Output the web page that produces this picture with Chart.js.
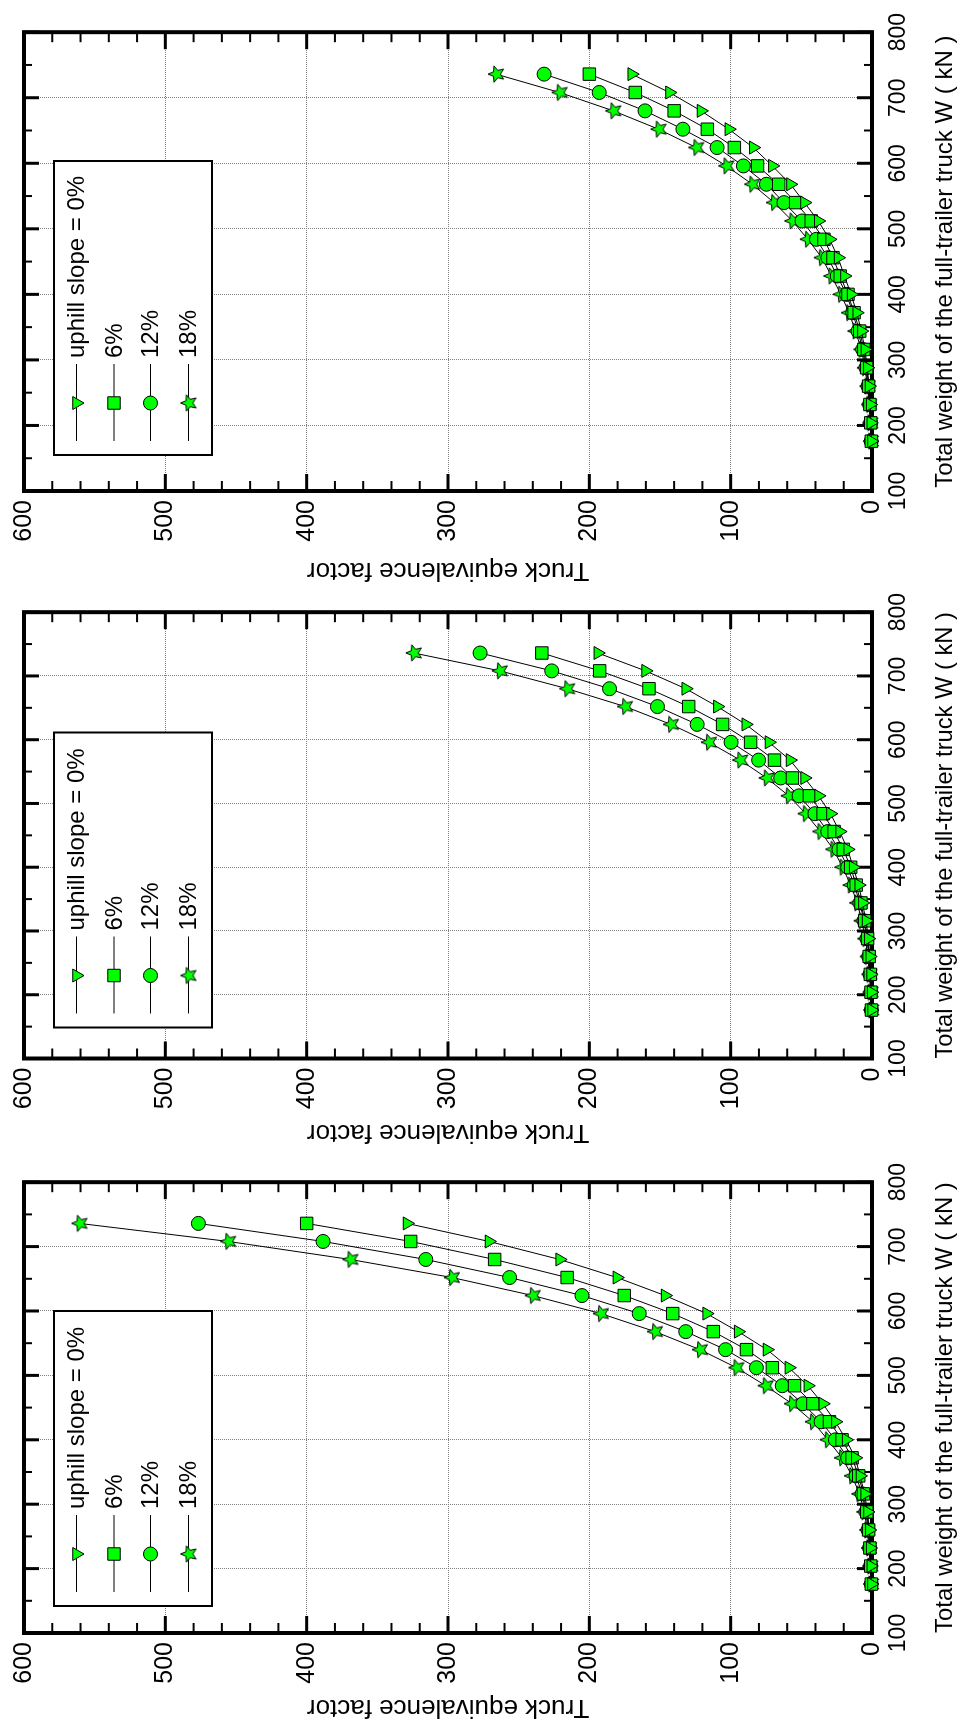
<!DOCTYPE html>
<html>
<head>
<meta charset="utf-8">
<script src="https://cdn.jsdelivr.net/npm/chart.js@4/dist/chart.umd.min.js"></script>
<style>
  html, body { margin: 0; padding: 0; background: #fff; }
  #page { position: relative; width: 960px; height: 1728px; overflow: hidden; background: #fff; }
  .panel { position: absolute; left: 0; transform-origin: 0 0; }
</style>
</head>
<body>
<div id="page"></div>
<script>
// Total weight of the full-trailer truck (kN), shared by every curve
const weights = [176, 204, 232, 260, 288, 316, 344, 372, 400, 428, 456, 484, 512, 540, 568, 596, 624, 652, 680, 708, 736];

const slopeLabels = ['uphill slope = 0%', '6%', '12%', '18%'];
const weightTicks = [100, 200, 300, 400, 500, 600, 700, 800];
const factorTicks = [0, 100, 200, 300, 400, 500, 600];

// Upper panel: truck equivalence factor per slope
const upper0  = [0.4, 0.8, 1.3, 2.1, 3.3, 5.0, 7.5, 10.8, 14.8, 19.5, 24.0, 30.0, 38.0, 47.8, 57.7, 70.5, 84.0, 101.3, 121.0, 143.3, 170.0];
const upper6  = [0.5, 0.9, 1.5, 2.4, 3.8, 5.8, 8.7, 12.7, 17.0, 22.5, 27.6, 34.0, 43.0, 54.0, 66.0, 81.0, 97.4, 116.5, 140.0, 167.5, 200.0];
const upper12 = [0.6, 1.0, 1.7, 2.8, 4.3, 6.6, 9.9, 13.6, 18.0, 24.6, 31.2, 39.3, 49.5, 62.3, 74.7, 91.0, 109.6, 133.8, 160.6, 193.0, 232.0];
const upper18 = [0.7, 1.2, 2.0, 3.2, 5.0, 7.5, 11.7, 16.2, 22.0, 28.7, 35.5, 45.4, 56.3, 69.3, 84.7, 103.0, 124.3, 151.0, 183.0, 221.0, 266.0];

// Middle panel
const middle0  = [0.3, 0.6, 1.0, 1.6, 2.6, 4.2, 6.8, 9.4, 13.3, 17.2, 22.9, 29.4, 37.8, 47.7, 58.0, 72.9, 89.3, 109.4, 131.8, 160.2, 194.0];
const middle6  = [0.4, 0.7, 1.2, 2.0, 3.1, 5.2, 7.8, 11.2, 15.1, 20.3, 26.8, 34.6, 44.3, 56.3, 69.0, 85.9, 105.7, 129.7, 157.8, 192.7, 233.6];
const middle12 = [0.45, 0.8, 1.4, 2.3, 3.6, 5.7, 8.6, 12.5, 17.2, 23.4, 31.3, 40.4, 51.6, 64.6, 80.2, 99.7, 123.7, 151.8, 185.7, 226.6, 277.3];
const middle18 = [0.5, 1.0, 1.8, 3.0, 4.7, 7.3, 10.4, 15.1, 20.8, 27.3, 36.5, 46.9, 58.9, 74.5, 93.2, 115.4, 142.2, 174.7, 215.6, 263.3, 324.2];

// Lower panel
const lower0  = [0.4, 0.8, 1.3, 1.9, 3.2, 5.2, 8.5, 11.8, 18.3, 25.9, 34.8, 45.4, 58.8, 74.3, 94.7, 117.0, 146.4, 180.5, 221.0, 271.0, 329.0];
const lower6  = [0.5, 0.9, 1.5, 2.4, 3.7, 6.1, 9.4, 14.1, 21.2, 30.1, 41.8, 54.8, 70.5, 88.8, 112.3, 141.0, 175.3, 215.7, 267.0, 326.4, 400.0];
const lower12 = [0.55, 1.0, 1.7, 2.8, 4.3, 7.0, 11.3, 17.2, 25.9, 36.0, 48.9, 63.5, 81.8, 103.6, 131.8, 164.7, 205.2, 256.4, 315.7, 388.4, 476.6];
const lower18 = [0.6, 1.2, 2.1, 3.4, 5.4, 8.9, 14.1, 21.2, 31.3, 41.8, 56.6, 75.2, 95.9, 121.7, 153.5, 191.8, 240.0, 297.2, 369.0, 455.5, 560.7];

const FONT = "'Liberation Sans', Arial, Helvetica, sans-serif";
const GREEN = '#00ff00';

// Five-pointed star marker
function makeStar() {
  const c = document.createElement('canvas');
  c.width = 20; c.height = 20;
  const g = c.getContext('2d');
  g.beginPath();
  for (let k = 0; k < 10; k++) {
    const r = k % 2 ? 3.8 : 8.6;
    const a = -Math.PI / 2 + k * Math.PI / 5;
    const px = 10 + r * Math.cos(a), py = 10.6 + r * Math.sin(a);
    if (k) g.lineTo(px, py); else g.moveTo(px, py);
  }
  g.closePath();
  g.fillStyle = GREEN; g.fill();
  g.lineWidth = 1; g.strokeStyle = '#000'; g.stroke();
  return c;
}
const STAR = makeStar();

const markerStyles = [
  { pointStyle: 'triangle', pointRadius: 7.5, pointRotation: 180 },
  { pointStyle: 'rect', pointRadius: 8.8, pointRotation: 0 },
  { pointStyle: 'circle', pointRadius: 7, pointRotation: 0 },
  { pointStyle: STAR, pointRadius: 7.5, pointRotation: 0 }
];

// Each chart is drawn upright, then the canvas is turned a quarter turn counter-clockwise.
const panels = [
  { top: 0,    height: 590, boxTop: 22,   boxBottom: 491,    titleCenter: 570,  legend: [36, 330], series: [upper0, upper6, upper12, upper18] },
  { top: 580,  height: 570, boxTop: 597,  boxBottom: 1058.5, titleCenter: 1132, legend: [31, 326], series: [middle0, middle6, middle12, middle18] },
  { top: 1150, height: 578, boxTop: 1165, boxBottom: 1633,   titleCenter: 1707, legend: [27, 322], series: [lower0, lower6, lower12, lower18] }
];

const PLOT_TOP = 19, PLOT_BOTTOM = 872, CANVAS_H = 960;

function line(ctx, x1, y1, x2, y2) {
  ctx.beginPath(); ctx.moveTo(x1, y1); ctx.lineTo(x2, y2); ctx.stroke();
}

// Heavy frame with inward major/minor ticks on all four sides
const framePlugin = {
  id: 'frame',
  beforeDatasetsDraw(chart) {
    const { ctx, chartArea: { left, right, top, bottom }, scales: { x, y } } = chart;
    ctx.save();
    ctx.strokeStyle = '#000';
    ctx.lineCap = 'butt';
    for (let v = 0; v <= 600; v += 20) {
      const py = y.getPixelForValue(v);
      const major = v % 100 === 0;
      const len = major ? 17 : 10;
      ctx.lineWidth = major ? 3 : 2;
      line(ctx, left, py, left + len, py);
      line(ctx, right - len, py, right, py);
    }
    for (let w = 100; w <= 800; w += 50) {
      const px = x.getPixelForValue(w);
      const major = w % 100 === 0;
      const len = major ? 15 : 8;
      ctx.lineWidth = major ? 3 : 2;
      line(ctx, px, top, px, top + len);
      line(ctx, px, bottom - len, px, bottom);
    }
    ctx.lineWidth = 4;
    ctx.strokeRect(left, top, right - left, bottom - top);
    ctx.restore();
  }
};

function drawMarker(ctx, i, cx, cy) {
  ctx.save();
  ctx.fillStyle = GREEN; ctx.strokeStyle = '#000'; ctx.lineWidth = 1;
  if (i === 0) {
    const r = 7.5;
    ctx.beginPath();
    for (let k = 0; k < 3; k++) {
      const a = Math.PI + k * 2 * Math.PI / 3;
      const px = cx + Math.sin(a) * r, py = cy - Math.cos(a) * r;
      if (k) ctx.lineTo(px, py); else ctx.moveTo(px, py);
    }
    ctx.closePath(); ctx.fill(); ctx.stroke();
  } else if (i === 1) {
    const s = 8.8 * Math.SQRT1_2;
    ctx.beginPath(); ctx.rect(cx - s, cy - s, 2 * s, 2 * s); ctx.fill(); ctx.stroke();
  } else if (i === 2) {
    ctx.beginPath(); ctx.arc(cx, cy, 7, 0, 2 * Math.PI); ctx.fill(); ctx.stroke();
  } else {
    ctx.drawImage(STAR, cx - STAR.width / 2, cy - STAR.height / 2);
  }
  ctx.restore();
}

const legendPlugin = {
  id: 'slopeLegend',
  afterDatasetsDraw(chart, args, opts) {
    const { ctx, chartArea: { left } } = chart;
    const x0 = left + opts.range[0], x1 = left + opts.range[1];
    const y0 = 54, y1 = 212;
    const rows = [22.5, 60, 96.5, 134.5];
    ctx.save();
    ctx.fillStyle = '#fff';
    ctx.fillRect(x0, y0, x1 - x0, y1 - y0);
    ctx.strokeStyle = '#000'; ctx.lineWidth = 2;
    ctx.strokeRect(x0, y0, x1 - x0, y1 - y0);
    ctx.font = '24px ' + FONT;
    ctx.textAlign = 'left'; ctx.textBaseline = 'middle';
    slopeLabels.forEach((label, i) => {
      const ry = y0 + rows[i];
      ctx.lineWidth = 1;
      line(ctx, x0 + 14, ry, x0 + 91, ry);
      drawMarker(ctx, i, x0 + 52, ry);
      ctx.fillStyle = '#000';
      ctx.fillText(label, x0 + 97, ry + 1);
    });
    ctx.restore();
  }
};

const page = document.getElementById('page');

panels.forEach(p => {
  const W = p.height;
  const canvas = document.createElement('canvas');
  canvas.width = W; canvas.height = CANVAS_H;
  canvas.className = 'panel';
  canvas.style.top = p.top + 'px';
  canvas.style.width = W + 'px';
  canvas.style.height = CANVAS_H + 'px';
  canvas.style.transform = 'translateY(' + W + 'px) rotate(-90deg)';
  page.appendChild(canvas);

  const chartLeft = p.top + W - p.boxBottom;
  const chartRight = p.top + W - p.boxTop;
  const yTitleCenter = p.top + W - p.titleCenter;

  new Chart(canvas, {
    type: 'scatter',
    data: {
      datasets: p.series.map((vals, i) => Object.assign({
        label: slopeLabels[i],
        data: weights.map((w, j) => ({ x: w, y: vals[j] })),
        showLine: true,
        borderColor: '#000',
        borderWidth: 1,
        pointBackgroundColor: GREEN,
        pointBorderColor: '#000',
        pointBorderWidth: 1,
        clip: false
      }, markerStyles[i]))
    },
    options: {
      responsive: false,
      devicePixelRatio: 1,
      animation: false,
      events: [],
      layout: { padding: { top: PLOT_TOP, right: W - chartRight, bottom: 0, left: 0 } },
      plugins: {
        legend: { display: false },
        tooltip: { enabled: false },
        slopeLegend: { range: p.legend }
      },
      scales: {
        x: {
          type: 'linear', position: 'bottom', min: 100, max: 800,
          afterBuildTicks: s => { s.ticks = weightTicks.map(v => ({ value: v })); },
          ticks: { autoSkip: false, maxRotation: 0, minRotation: 0, padding: 13, color: '#000', font: { family: FONT, size: 23 } },
          grid: { color: '#808080', lineWidth: 1, drawTicks: false, borderDash: [1, 1] },
          border: { display: false, dash: [1, 1] },
          title: { display: true, text: 'Total weight of the full-trailer truck W ( kN )', color: '#000', font: { family: FONT, size: 24 }, padding: { top: 0, bottom: 0.6 } },
          afterFit: s => { s.height = CANVAS_H - PLOT_BOTTOM; }
        },
        y: {
          type: 'linear', position: 'left', min: 0, max: 600,
          afterBuildTicks: s => { s.ticks = factorTicks.map(v => ({ value: v })); },
          ticks: { padding: 9, color: '#000', font: { family: FONT, size: 25 } },
          grid: { color: '#808080', lineWidth: 1, drawTicks: false, borderDash: [1, 1] },
          border: { display: false, dash: [1, 1] },
          title: { display: true, text: 'Truck equivalence factor', color: '#000', font: { family: FONT, size: 26 }, padding: { top: yTitleCenter - 15.6, bottom: 0 } },
          afterFit: s => { s.width = chartLeft; }
        }
      }
    },
    plugins: [framePlugin, legendPlugin]
  });
});
</script>
</body>
</html>
